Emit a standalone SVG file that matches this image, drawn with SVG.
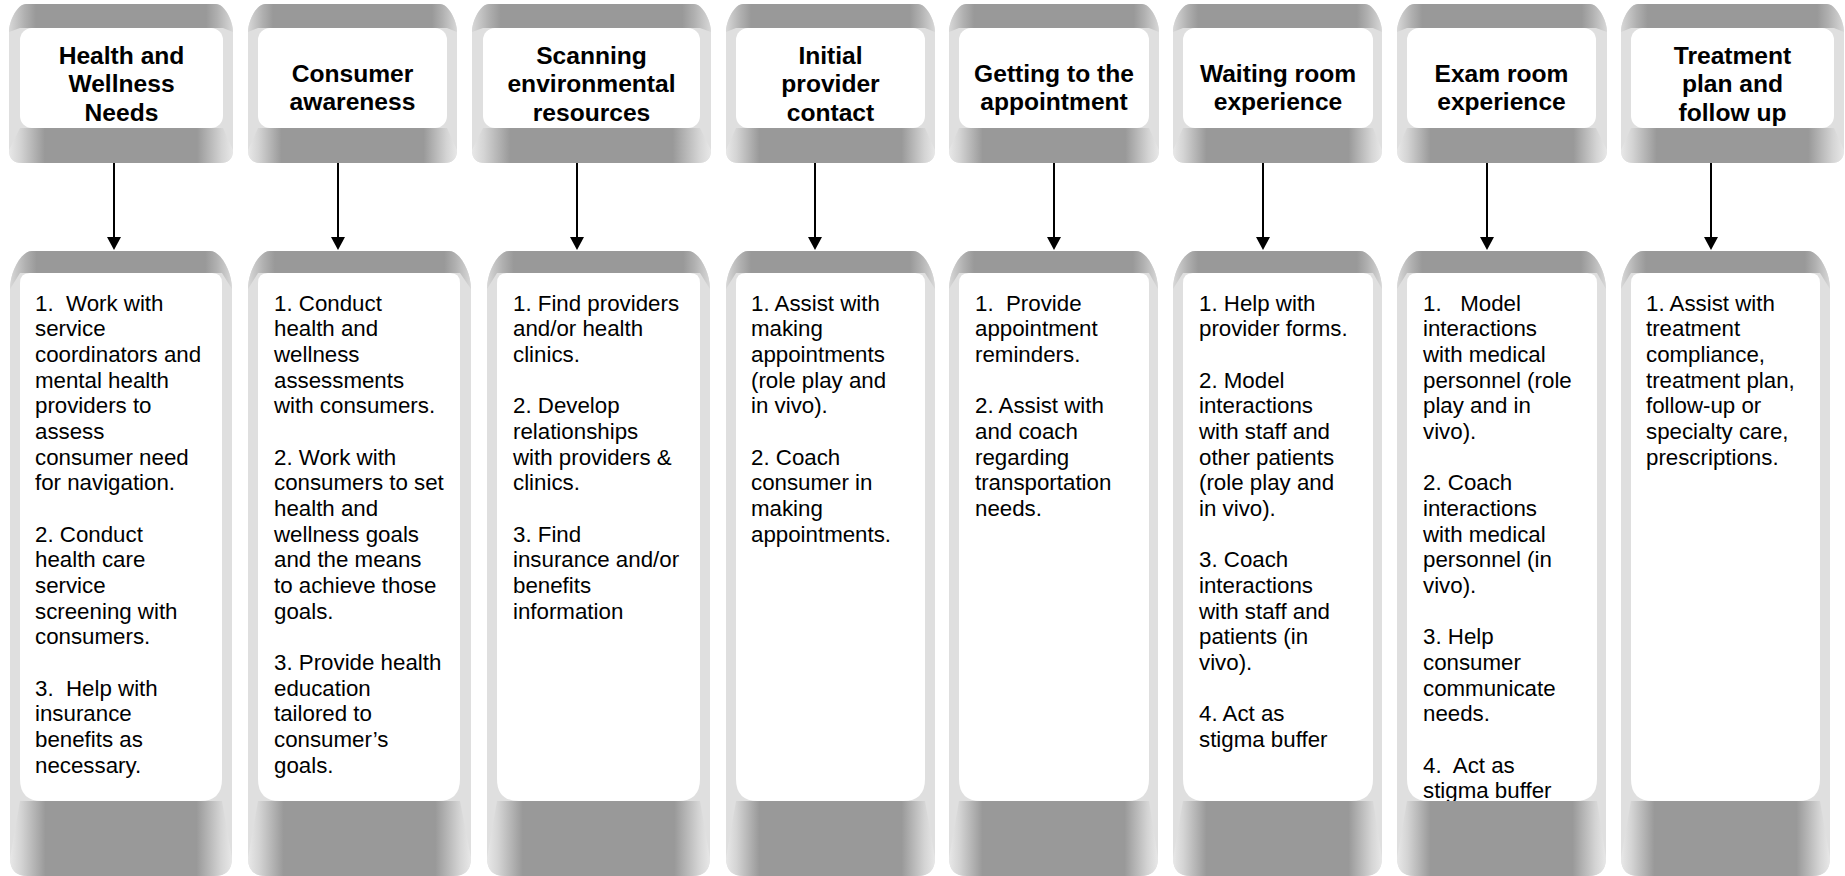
<svg xmlns="http://www.w3.org/2000/svg" width="1845" height="876" viewBox="0 0 1845 876">
<style>
.side{fill:#dfdfdf}
.tf{fill:url(#gTop)}
.bf{fill:url(#gBot)}
.inner{fill:#ffffff}
.t{font-family:"Liberation Sans",Arial,sans-serif;font-size:24.6px;font-weight:bold;text-anchor:middle;fill:#000}
.b{font-family:"Liberation Sans",Arial,sans-serif;font-size:22.3px;fill:#000;white-space:pre}
.conn line{stroke:#000;stroke-width:2;marker-end:url(#ah)}
</style>
<defs>
<linearGradient id="gTop" x1="0" y1="0" x2="1" y2="0">
<stop offset="0" stop-color="#d8d8d8"/>
<stop offset="0.07" stop-color="#b0b0b0"/>
<stop offset="0.12" stop-color="#999"/>
<stop offset="0.88" stop-color="#999"/>
<stop offset="0.93" stop-color="#b0b0b0"/>
<stop offset="1" stop-color="#d8d8d8"/>
</linearGradient>
<linearGradient id="gBot" x1="0" y1="0" x2="1" y2="0">
<stop offset="0" stop-color="#e8e8e8"/>
<stop offset="0.05" stop-color="#d4d4d4"/>
<stop offset="0.16" stop-color="#999"/>
<stop offset="0.84" stop-color="#999"/>
<stop offset="0.95" stop-color="#d4d4d4"/>
<stop offset="1" stop-color="#e8e8e8"/>
</linearGradient>
<marker id="ah" viewBox="0 0 13 14" refX="1" refY="7" markerWidth="13" markerHeight="14" markerUnits="userSpaceOnUse" orient="auto">
<path d="M0,0 L13,7 L0,14 Z" fill="#000"/>
</marker>
<clipPath id="clip7"><path d="M1407,283 Q1407,273 1417,273 L1587,273 Q1597,273 1597,283 L1597,779 Q1597,801 1575,801 L1429,801 Q1407,801 1407,779 Z"/></clipPath>
</defs>

<!-- Top row -->
<g id="top1">
<path class="side" d="M9,32 C9,20.8 17.5,4 26,4 L216,4 C224.5,4 233,20.8 233,32 L233,150 Q233,163 220,163 L22,163 Q9,163 9,150 Z"/>
<path class="tf" d="M9,32 C9,20.8 17.5,4 26,4 L216,4 C224.5,4 233,20.8 233,32 L223,28 L20,28 Z"/>
<path class="bf" d="M20,128 L223,128 L233,150 Q233,163 220,163 L22,163 Q9,163 9,150 Z"/>
<rect class="inner" x="20" y="28" width="203" height="100" rx="12"/>
<text class="t"><tspan x="121.5" y="64">Health and</tspan><tspan x="121.5" y="92.3">Wellness</tspan><tspan x="121.5" y="120.6">Needs</tspan></text>
</g>
<g id="top2">
<path class="side" d="M248,32 C248,20.8 256.5,4 265,4 L440,4 C448.5,4 457,20.8 457,32 L457,150 Q457,163 444,163 L261,163 Q248,163 248,150 Z"/>
<path class="tf" d="M248,32 C248,20.8 256.5,4 265,4 L440,4 C448.5,4 457,20.8 457,32 L447,28 L258,28 Z"/>
<path class="bf" d="M258,128 L447,128 L457,150 Q457,163 444,163 L261,163 Q248,163 248,150 Z"/>
<rect class="inner" x="258" y="28" width="189" height="100" rx="12"/>
<text class="t"><tspan x="352.5" y="81.7">Consumer</tspan><tspan x="352.5" y="110">awareness</tspan></text>
</g>
<g id="top3">
<path class="side" d="M472,32 C472,20.8 480.5,4 489,4 L694,4 C702.5,4 711,20.8 711,32 L711,150 Q711,163 698,163 L485,163 Q472,163 472,150 Z"/>
<path class="tf" d="M472,32 C472,20.8 480.5,4 489,4 L694,4 C702.5,4 711,20.8 711,32 L700,28 L483,28 Z"/>
<path class="bf" d="M483,128 L700,128 L711,150 Q711,163 698,163 L485,163 Q472,163 472,150 Z"/>
<rect class="inner" x="483" y="28" width="217" height="100" rx="12"/>
<text class="t"><tspan x="591.5" y="64">Scanning</tspan><tspan x="591.5" y="92.3">environmental</tspan><tspan x="591.5" y="120.6">resources</tspan></text>
</g>
<g id="top4">
<path class="side" d="M726,32 C726,20.8 734.5,4 743,4 L918,4 C926.5,4 935,20.8 935,32 L935,150 Q935,163 922,163 L739,163 Q726,163 726,150 Z"/>
<path class="tf" d="M726,32 C726,20.8 734.5,4 743,4 L918,4 C926.5,4 935,20.8 935,32 L925,28 L736,28 Z"/>
<path class="bf" d="M736,128 L925,128 L935,150 Q935,163 922,163 L739,163 Q726,163 726,150 Z"/>
<rect class="inner" x="736" y="28" width="189" height="100" rx="12"/>
<text class="t"><tspan x="830.5" y="64">Initial</tspan><tspan x="830.5" y="92.3">provider</tspan><tspan x="830.5" y="120.6">contact</tspan></text>
</g>
<g id="top5">
<path class="side" d="M949,32 C949,20.8 957.5,4 966,4 L1142,4 C1150.5,4 1159,20.8 1159,32 L1159,150 Q1159,163 1146,163 L962,163 Q949,163 949,150 Z"/>
<path class="tf" d="M949,32 C949,20.8 957.5,4 966,4 L1142,4 C1150.5,4 1159,20.8 1159,32 L1149,28 L959,28 Z"/>
<path class="bf" d="M959,128 L1149,128 L1159,150 Q1159,163 1146,163 L962,163 Q949,163 949,150 Z"/>
<rect class="inner" x="959" y="28" width="190" height="100" rx="12"/>
<text class="t"><tspan x="1054" y="81.7">Getting to the</tspan><tspan x="1054" y="110">appointment</tspan></text>
</g>
<g id="top6">
<path class="side" d="M1173,32 C1173,20.8 1181.5,4 1190,4 L1365,4 C1373.5,4 1382,20.8 1382,32 L1382,150 Q1382,163 1369,163 L1186,163 Q1173,163 1173,150 Z"/>
<path class="tf" d="M1173,32 C1173,20.8 1181.5,4 1190,4 L1365,4 C1373.5,4 1382,20.8 1382,32 L1373,28 L1183,28 Z"/>
<path class="bf" d="M1183,128 L1373,128 L1382,150 Q1382,163 1369,163 L1186,163 Q1173,163 1173,150 Z"/>
<rect class="inner" x="1183" y="28" width="190" height="100" rx="12"/>
<text class="t"><tspan x="1278" y="81.7">Waiting room</tspan><tspan x="1278" y="110">experience</tspan></text>
</g>
<g id="top7">
<path class="side" d="M1397,32 C1397,20.8 1405.5,4 1414,4 L1590,4 C1598.5,4 1607,20.8 1607,32 L1607,150 Q1607,163 1594,163 L1410,163 Q1397,163 1397,150 Z"/>
<path class="tf" d="M1397,32 C1397,20.8 1405.5,4 1414,4 L1590,4 C1598.5,4 1607,20.8 1607,32 L1596,28 L1407,28 Z"/>
<path class="bf" d="M1407,128 L1596,128 L1607,150 Q1607,163 1594,163 L1410,163 Q1397,163 1397,150 Z"/>
<rect class="inner" x="1407" y="28" width="189" height="100" rx="12"/>
<text class="t"><tspan x="1501.5" y="81.7">Exam room</tspan><tspan x="1501.5" y="110">experience</tspan></text>
</g>
<g id="top8">
<path class="side" d="M1621,32 C1621,20.8 1629.5,4 1638,4 L1827,4 C1835.5,4 1844,20.8 1844,32 L1844,150 Q1844,163 1831,163 L1634,163 Q1621,163 1621,150 Z"/>
<path class="tf" d="M1621,32 C1621,20.8 1629.5,4 1638,4 L1827,4 C1835.5,4 1844,20.8 1844,32 L1834,28 L1631,28 Z"/>
<path class="bf" d="M1631,128 L1834,128 L1844,150 Q1844,163 1831,163 L1634,163 Q1621,163 1621,150 Z"/>
<rect class="inner" x="1631" y="28" width="203" height="100" rx="12"/>
<text class="t"><tspan x="1732.5" y="64">Treatment</tspan><tspan x="1732.5" y="92.3">plan and</tspan><tspan x="1732.5" y="120.6">follow up</tspan></text>
</g>

<!-- Bottom row -->
<g id="bot1">
<path class="side" d="M10,289 C10,271.8 21,251 32,251 L210,251 C221,251 232,271.8 232,289 L232,858 Q232,876 214,876 L28,876 Q10,876 10,858 Z"/>
<path class="tf" d="M10,289 C10,271.8 21,251 32,251 L210,251 C221,251 232,271.8 232,289 L222,273 L20,273 Z"/>
<path class="bf" d="M20,801 L222,801 L232,858 Q232,876 214,876 L28,876 Q10,876 10,858 Z"/>
<path class="inner" d="M20,283 Q20,273 30,273 L212,273 Q222,273 222,283 L222,779 Q222,801 200,801 L42,801 Q20,801 20,779 Z"/>
<text class="b"><tspan x="35" y="310.7">1.  Work with</tspan><tspan x="35" y="336.4">service</tspan><tspan x="35" y="362">coordinators and</tspan><tspan x="35" y="387.7">mental health</tspan><tspan x="35" y="413.3">providers to</tspan><tspan x="35" y="439">assess</tspan><tspan x="35" y="464.7">consumer need</tspan><tspan x="35" y="490.3">for navigation.</tspan><tspan x="35" y="541.6">2. Conduct</tspan><tspan x="35" y="567.3">health care</tspan><tspan x="35" y="593">service</tspan><tspan x="35" y="618.6">screening with</tspan><tspan x="35" y="644.3">consumers.</tspan><tspan x="35" y="695.6">3.  Help with</tspan><tspan x="35" y="721.3">insurance</tspan><tspan x="35" y="746.9">benefits as</tspan><tspan x="35" y="772.6">necessary.</tspan></text>
</g>
<g id="bot2">
<path class="side" d="M248,289 C248,271.8 259,251 270,251 L449,251 C460,251 471,271.8 471,289 L471,858 Q471,876 453,876 L266,876 Q248,876 248,858 Z"/>
<path class="tf" d="M248,289 C248,271.8 259,251 270,251 L449,251 C460,251 471,271.8 471,289 L460,273 L258,273 Z"/>
<path class="bf" d="M258,801 L460,801 L471,858 Q471,876 453,876 L266,876 Q248,876 248,858 Z"/>
<path class="inner" d="M258,283 Q258,273 268,273 L450,273 Q460,273 460,283 L460,779 Q460,801 438,801 L280,801 Q258,801 258,779 Z"/>
<text class="b"><tspan x="274" y="310.7">1. Conduct</tspan><tspan x="274" y="336.4">health and</tspan><tspan x="274" y="362">wellness</tspan><tspan x="274" y="387.7">assessments</tspan><tspan x="274" y="413.3">with consumers.</tspan><tspan x="274" y="464.7">2. Work with</tspan><tspan x="274" y="490.3">consumers to set</tspan><tspan x="274" y="516">health and</tspan><tspan x="274" y="541.6">wellness goals</tspan><tspan x="274" y="567.3">and the means</tspan><tspan x="274" y="593">to achieve those</tspan><tspan x="274" y="618.6">goals.</tspan><tspan x="274" y="669.9">3. Provide health</tspan><tspan x="274" y="695.6">education</tspan><tspan x="274" y="721.3">tailored to</tspan><tspan x="274" y="746.9">consumer’s</tspan><tspan x="274" y="772.6">goals.</tspan></text>
</g>
<g id="bot3">
<path class="side" d="M487,289 C487,271.8 498,251 509,251 L688,251 C699,251 710,271.8 710,289 L710,858 Q710,876 692,876 L505,876 Q487,876 487,858 Z"/>
<path class="tf" d="M487,289 C487,271.8 498,251 509,251 L688,251 C699,251 710,271.8 710,289 L700,273 L497,273 Z"/>
<path class="bf" d="M497,801 L700,801 L710,858 Q710,876 692,876 L505,876 Q487,876 487,858 Z"/>
<path class="inner" d="M497,283 Q497,273 507,273 L690,273 Q700,273 700,283 L700,779 Q700,801 678,801 L519,801 Q497,801 497,779 Z"/>
<text class="b"><tspan x="513" y="310.7">1. Find providers</tspan><tspan x="513" y="336.4">and/or health</tspan><tspan x="513" y="362">clinics.</tspan><tspan x="513" y="413.3">2. Develop</tspan><tspan x="513" y="439">relationships</tspan><tspan x="513" y="464.7">with providers &amp;</tspan><tspan x="513" y="490.3">clinics.</tspan><tspan x="513" y="541.6">3. Find</tspan><tspan x="513" y="567.3">insurance and/or</tspan><tspan x="513" y="593">benefits</tspan><tspan x="513" y="618.6">information</tspan></text>
</g>
<g id="bot4">
<path class="side" d="M726,289 C726,271.8 737,251 748,251 L913,251 C924,251 935,271.8 935,289 L935,858 Q935,876 917,876 L744,876 Q726,876 726,858 Z"/>
<path class="tf" d="M726,289 C726,271.8 737,251 748,251 L913,251 C924,251 935,271.8 935,289 L925,273 L736,273 Z"/>
<path class="bf" d="M736,801 L925,801 L935,858 Q935,876 917,876 L744,876 Q726,876 726,858 Z"/>
<path class="inner" d="M736,283 Q736,273 746,273 L915,273 Q925,273 925,283 L925,779 Q925,801 903,801 L758,801 Q736,801 736,779 Z"/>
<text class="b"><tspan x="751" y="310.7">1. Assist with</tspan><tspan x="751" y="336.4">making</tspan><tspan x="751" y="362">appointments</tspan><tspan x="751" y="387.7">(role play and</tspan><tspan x="751" y="413.3">in vivo).</tspan><tspan x="751" y="464.7">2. Coach</tspan><tspan x="751" y="490.3">consumer in</tspan><tspan x="751" y="516">making</tspan><tspan x="751" y="541.6">appointments.</tspan></text>
</g>
<g id="bot5">
<path class="side" d="M949,289 C949,271.8 960,251 971,251 L1136,251 C1147,251 1158,271.8 1158,289 L1158,858 Q1158,876 1140,876 L967,876 Q949,876 949,858 Z"/>
<path class="tf" d="M949,289 C949,271.8 960,251 971,251 L1136,251 C1147,251 1158,271.8 1158,289 L1149,273 L959,273 Z"/>
<path class="bf" d="M959,801 L1149,801 L1158,858 Q1158,876 1140,876 L967,876 Q949,876 949,858 Z"/>
<path class="inner" d="M959,283 Q959,273 969,273 L1139,273 Q1149,273 1149,283 L1149,779 Q1149,801 1127,801 L981,801 Q959,801 959,779 Z"/>
<text class="b"><tspan x="975" y="310.7">1.  Provide</tspan><tspan x="975" y="336.4">appointment</tspan><tspan x="975" y="362">reminders.</tspan><tspan x="975" y="413.3">2. Assist with</tspan><tspan x="975" y="439">and coach</tspan><tspan x="975" y="464.7">regarding</tspan><tspan x="975" y="490.3">transportation</tspan><tspan x="975" y="516">needs.</tspan></text>
</g>
<g id="bot6">
<path class="side" d="M1173,289 C1173,271.8 1184,251 1195,251 L1360,251 C1371,251 1382,271.8 1382,289 L1382,858 Q1382,876 1364,876 L1191,876 Q1173,876 1173,858 Z"/>
<path class="tf" d="M1173,289 C1173,271.8 1184,251 1195,251 L1360,251 C1371,251 1382,271.8 1382,289 L1373,273 L1183,273 Z"/>
<path class="bf" d="M1183,801 L1373,801 L1382,858 Q1382,876 1364,876 L1191,876 Q1173,876 1173,858 Z"/>
<path class="inner" d="M1183,283 Q1183,273 1193,273 L1363,273 Q1373,273 1373,283 L1373,779 Q1373,801 1351,801 L1205,801 Q1183,801 1183,779 Z"/>
<text class="b"><tspan x="1199" y="310.7">1. Help with</tspan><tspan x="1199" y="336.4">provider forms.</tspan><tspan x="1199" y="387.7">2. Model</tspan><tspan x="1199" y="413.3">interactions</tspan><tspan x="1199" y="439">with staff and</tspan><tspan x="1199" y="464.7">other patients</tspan><tspan x="1199" y="490.3">(role play and</tspan><tspan x="1199" y="516">in vivo).</tspan><tspan x="1199" y="567.3">3. Coach</tspan><tspan x="1199" y="593">interactions</tspan><tspan x="1199" y="618.6">with staff and</tspan><tspan x="1199" y="644.3">patients (in</tspan><tspan x="1199" y="669.9">vivo).</tspan><tspan x="1199" y="721.3">4. Act as</tspan><tspan x="1199" y="746.9">stigma buffer</tspan></text>
</g>
<g id="bot7">
<path class="side" d="M1397,289 C1397,271.8 1408,251 1419,251 L1584,251 C1595,251 1606,271.8 1606,289 L1606,858 Q1606,876 1588,876 L1415,876 Q1397,876 1397,858 Z"/>
<path class="tf" d="M1397,289 C1397,271.8 1408,251 1419,251 L1584,251 C1595,251 1606,271.8 1606,289 L1597,273 L1407,273 Z"/>
<path class="bf" d="M1407,801 L1597,801 L1606,858 Q1606,876 1588,876 L1415,876 Q1397,876 1397,858 Z"/>
<path class="inner" d="M1407,283 Q1407,273 1417,273 L1587,273 Q1597,273 1597,283 L1597,779 Q1597,801 1575,801 L1429,801 Q1407,801 1407,779 Z"/>
<text class="b" clip-path="url(#clip7)"><tspan x="1423" y="310.7">1.   Model</tspan><tspan x="1423" y="336.4">interactions</tspan><tspan x="1423" y="362">with medical</tspan><tspan x="1423" y="387.7">personnel (role</tspan><tspan x="1423" y="413.3">play and in</tspan><tspan x="1423" y="439">vivo).</tspan><tspan x="1423" y="490.3">2. Coach</tspan><tspan x="1423" y="516">interactions</tspan><tspan x="1423" y="541.6">with medical</tspan><tspan x="1423" y="567.3">personnel (in</tspan><tspan x="1423" y="593">vivo).</tspan><tspan x="1423" y="644.3">3. Help</tspan><tspan x="1423" y="669.9">consumer</tspan><tspan x="1423" y="695.6">communicate</tspan><tspan x="1423" y="721.3">needs.</tspan><tspan x="1423" y="772.6">4.  Act as</tspan><tspan x="1423" y="798.2">stigma buffer</tspan></text>
</g>
<g id="bot8">
<path class="side" d="M1621,289 C1621,271.8 1632,251 1643,251 L1808,251 C1819,251 1830,271.8 1830,289 L1830,858 Q1830,876 1812,876 L1639,876 Q1621,876 1621,858 Z"/>
<path class="tf" d="M1621,289 C1621,271.8 1632,251 1643,251 L1808,251 C1819,251 1830,271.8 1830,289 L1820,273 L1631,273 Z"/>
<path class="bf" d="M1631,801 L1820,801 L1830,858 Q1830,876 1812,876 L1639,876 Q1621,876 1621,858 Z"/>
<path class="inner" d="M1631,283 Q1631,273 1641,273 L1810,273 Q1820,273 1820,283 L1820,779 Q1820,801 1798,801 L1653,801 Q1631,801 1631,779 Z"/>
<text class="b"><tspan x="1646" y="310.7">1. Assist with</tspan><tspan x="1646" y="336.4">treatment</tspan><tspan x="1646" y="362">compliance,</tspan><tspan x="1646" y="387.7">treatment plan,</tspan><tspan x="1646" y="413.3">follow-up or</tspan><tspan x="1646" y="439">specialty care,</tspan><tspan x="1646" y="464.7">prescriptions.</tspan></text>
</g>

<g id="connectors" class="conn">
<line x1="114" y1="163" x2="114" y2="238"/>
<line x1="338" y1="163" x2="338" y2="238"/>
<line x1="577" y1="163" x2="577" y2="238"/>
<line x1="815" y1="163" x2="815" y2="238"/>
<line x1="1054" y1="163" x2="1054" y2="238"/>
<line x1="1263" y1="163" x2="1263" y2="238"/>
<line x1="1487" y1="163" x2="1487" y2="238"/>
<line x1="1711" y1="163" x2="1711" y2="238"/>
</g>
</svg>
